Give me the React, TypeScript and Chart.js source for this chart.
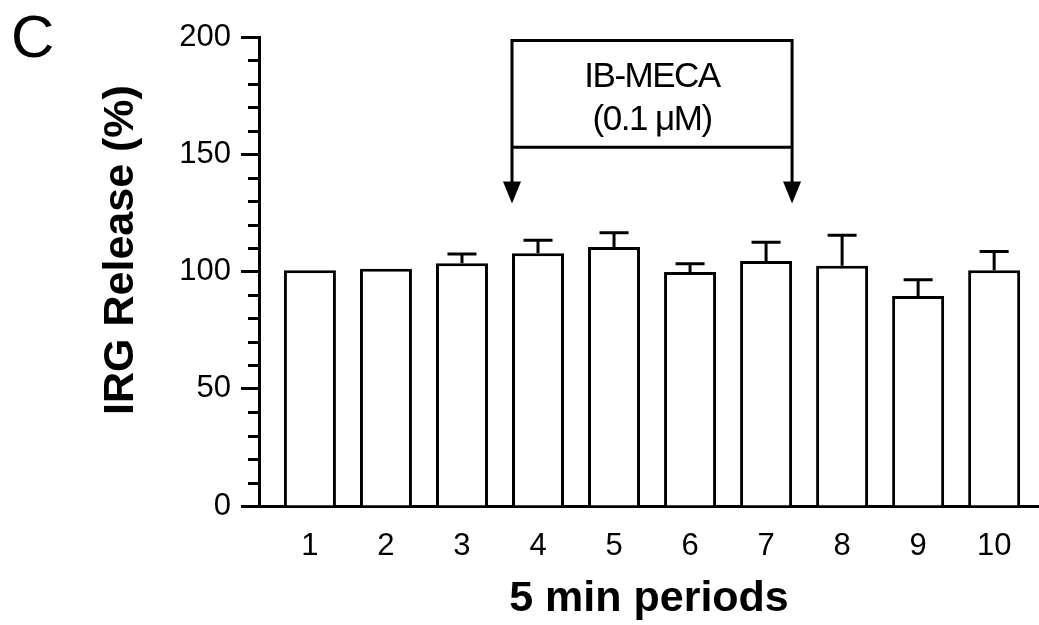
import React, { useEffect, useRef } from "react";
import { Chart, registerables } from "chart.js";

Chart.register(...registerables);

// ---- data ----
const periods = [1, 2, 3, 4, 5, 6, 7, 8, 9, 10];
const means = [100.5, 101.2, 103.5, 107.8, 110.5, 99.8, 104.5, 102.5, 89.5, 100.5];
const sems = [0, 0, 4, 5.5, 6, 3.5, 8, 13, 7, 8];
const yMajorTicks = [0, 50, 100, 150, 200];
const panelLabel = "C";
const yTitle = "IRG Release (%)";
const xTitle = "5 min periods";
const treatmentLines = ["IB-MECA", "(0.1 μM)"];
// treatment bracket in data units
const treatmentFrom = 3.658;
const treatmentTo = 7.342;
const treatmentBoxTop = 198.5;
const treatmentBoxBottom = 153;
const treatmentArrowTip = 129;
const treatmentTextY = [183, 164.5];

const FONT = "'Liberation Sans', Arial, Helvetica, sans-serif";

const decorPlugin = {
  id: "decor",
  afterDatasetsDraw(chart: any) {
    const { ctx, chartArea } = chart;
    const x = chart.scales.x;
    const y = chart.scales.y;
    ctx.save();
    ctx.strokeStyle = "#000";
    ctx.fillStyle = "#000";
    ctx.lineWidth = 3;
    ctx.lineCap = "butt";

    // error bars (upper only)
    periods.forEach((p, i) => {
      if (!sems[i]) return;
      const px = x.getPixelForValue(p);
      const base = y.getPixelForValue(means[i]);
      const top = y.getPixelForValue(means[i] + sems[i]);
      ctx.beginPath();
      ctx.moveTo(px, base);
      ctx.lineTo(px, top);
      ctx.moveTo(px - 14.5, top);
      ctx.lineTo(px + 14.5, top);
      ctx.stroke();
    });

    // minor y ticks
    y.ticks.forEach((t: any) => {
      if (yMajorTicks.includes(t.value)) return;
      const py = Math.round(y.getPixelForValue(t.value)) + 0.5;
      ctx.beginPath();
      ctx.moveTo(chartArea.left - 11, py);
      ctx.lineTo(chartArea.left, py);
      ctx.stroke();
    });

    // treatment bracket
    const xl = x.getPixelForValue(treatmentFrom);
    const xr = x.getPixelForValue(treatmentTo);
    const yt = y.getPixelForValue(treatmentBoxTop);
    const yb = y.getPixelForValue(treatmentBoxBottom);
    const ya = y.getPixelForValue(treatmentArrowTip);
    const headH = 22;
    const headW = 9;
    ctx.beginPath();
    ctx.moveTo(xl, ya - headH + 1);
    ctx.lineTo(xl, yt);
    ctx.lineTo(xr, yt);
    ctx.lineTo(xr, ya - headH + 1);
    ctx.moveTo(xl, yb);
    ctx.lineTo(xr, yb);
    ctx.stroke();
    [xl, xr].forEach((ax) => {
      ctx.beginPath();
      ctx.moveTo(ax - headW, ya - headH);
      ctx.lineTo(ax + headW, ya - headH);
      ctx.lineTo(ax, ya);
      ctx.closePath();
      ctx.fill();
    });
    ctx.font = `35px ${FONT}`;
    try {
      (ctx as any).letterSpacing = "-1.5px";
    } catch (e) {}
    ctx.textAlign = "center";
    ctx.textBaseline = "middle";
    const cx = (xl + xr) / 2;
    treatmentLines.forEach((line, i) => {
      ctx.fillText(line, cx, y.getPixelForValue(treatmentTextY[i]));
    });
    ctx.restore();
  },
  afterDraw(chart: any) {
    const { ctx } = chart;
    ctx.save();
    ctx.fillStyle = "#000";
    // panel label
    ctx.font = `60px ${FONT}`;
    ctx.textAlign = "left";
    ctx.textBaseline = "alphabetic";
    ctx.fillText(panelLabel, 11, 57);
    // y title
    ctx.font = `bold 43px ${FONT}`;
    ctx.textAlign = "center";
    ctx.textBaseline = "middle";
    ctx.translate(121.5, 250);
    ctx.rotate(-Math.PI / 2);
    ctx.fillText(yTitle, 0, 0);
    ctx.restore();
  },
};

export default function App() {
  const ref = useRef<HTMLCanvasElement | null>(null);

  useEffect(() => {
    if (!ref.current) return;
    const chart = new Chart(ref.current, {
      type: "bar",
      data: {
        datasets: [
          {
            data: periods.map((p, i) => ({ x: p, y: means[i] })),
            backgroundColor: "#ffffff",
            borderColor: "#000000",
            borderWidth: 3,
            barPercentage: 0.684,
            categoryPercentage: 1,
          } as any,
        ],
      },
      options: {
        responsive: false,
        animation: false,
        devicePixelRatio: 1,
        layout: { padding: { top: 37, left: 0, right: 0, bottom: 0 } },
        plugins: {
          legend: { display: false },
          tooltip: { enabled: false },
          title: { display: false },
        },
        scales: {
          x: {
            type: "linear",
            offset: false,
            min: 0.33,
            max: 10.59,
            afterBuildTicks: (s: any) => {
              s.ticks = periods.map((v) => ({ value: v }));
            },
            afterFit: (s: any) => {
              s.height = 119;
            },
            grid: { display: false, drawTicks: false, tickLength: 0, offset: false },
            border: { display: true, color: "#000", width: 3 },
            ticks: {
              color: "#000",
              font: { family: FONT, size: 31 },
              padding: 22,
              autoSkip: false,
              maxRotation: 0,
              callback: (v: any) => String(v),
            },
            title: {
              display: true,
              text: xTitle,
              color: "#000",
              font: { family: FONT, size: 43, weight: "bold" },
              padding: { top: 0, bottom: 0 },
            },
          },
          y: {
            min: 0,
            max: 200,
            afterFit: (s: any) => {
              s.width = 259;
            },
            ticks: {
              stepSize: 10,
              autoSkip: false,
              color: "#000",
              font: { family: FONT, size: 31 },
              padding: 10,
              callback: (v: any) => (yMajorTicks.includes(v) ? String(v) : ""),
            },
            grid: {
              drawOnChartArea: false,
              tickLength: 18,
              tickWidth: 3,
              tickColor: (c: any) =>
                yMajorTicks.includes(c.tick?.value) ? "#000" : "rgba(0,0,0,0)",
            },
            border: { color: "#000", width: 3 },
          },
        },
      } as any,
      plugins: [decorPlugin],
    });
    return () => chart.destroy();
  }, []);

  return (
    <div style={{ position: "absolute", left: 0, top: 0, width: 1039, height: 625, background: "#fff" }}>
      <canvas ref={ref} width={1039} height={625} />
    </div>
  );
}
